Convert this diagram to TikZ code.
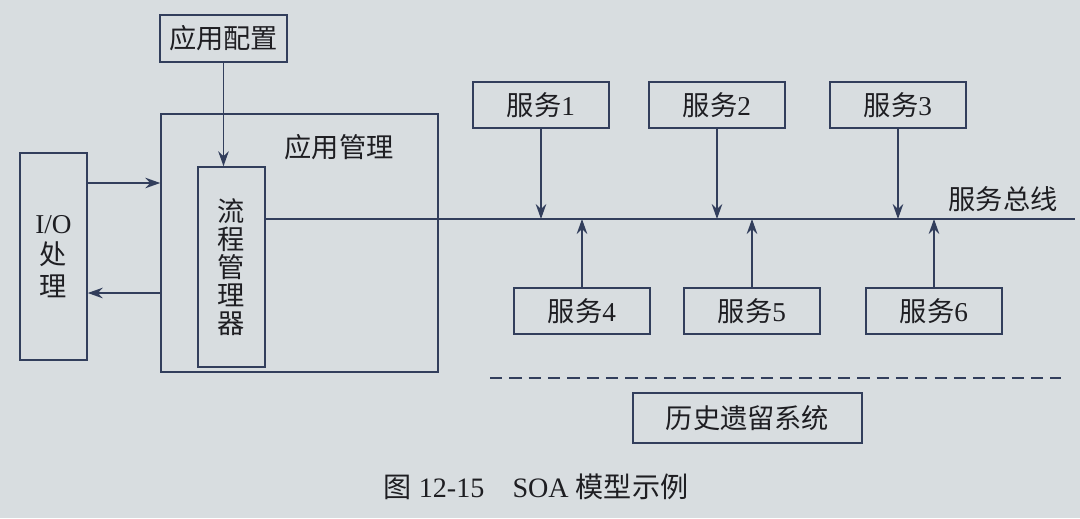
\documentclass[tikz,border=0pt]{standalone}
\usepackage{fontspec}
\setmainfont{Liberation Serif}
\newfontfamily\cjk{Noto Sans CJK SC}
\usetikzlibrary{arrows.meta}
\definecolor{paper}{RGB}{216,221,224}
\definecolor{ink}{RGB}{50,62,92}
\definecolor{txt}{RGB}{30,30,34}

\tikzset{
 box/.style={draw=ink,line width=0.9pt,inner sep=0pt,text=txt,
  font=\fontsize{15.5pt}{16pt}\selectfont},
 svc/.style={box,minimum width=2.72cm,minimum height=0.93cm},
 lbl/.style={text=txt,inner sep=0pt,font=\fontsize{15.5pt}{16pt}\selectfont},
 link/.style={->,draw=ink,line width=0.9pt}
}

\begin{document}
\begin{tikzpicture}[x=0.02cm,y=-0.02cm,>={Stealth[length=8.5pt,width=6pt]}]
\fill[paper] (0,0) rectangle (1080,518);
\useasboundingbox (0,0) rectangle (1080,518);
% left part
\node[box,minimum width=2.54cm,minimum height=0.94cm] (cfg) at (223.5,38.5) {{\cjk 应用配置}};
\node[box,minimum width=5.54cm,minimum height=5.16cm] (app) at (299.5,243) {};
\node[lbl] (applbl) at (339,147) {{\cjk 应用管理}};
\node[box,minimum width=1.34cm,minimum height=4.0cm,align=center,
 font=\fontsize{15.5pt}{16pt}\selectfont] (flow) at (231.5,267)
 {{\cjk 流}\\{\cjk 程}\\{\cjk 管}\\{\cjk 理}\\{\cjk 器}};
\node[box,minimum width=1.34cm,minimum height=4.14cm,align=center,
 font=\fontsize{15.5pt}{18pt}\selectfont] (io) at (53.5,256.5)
 {I/O\\{\cjk 处}\\{\cjk 理}};
\draw[link] (cfg) -- (cfg |- flow.north);
\coordinate (in) at (0,183);
\coordinate (out) at (0,293);
\draw[link] (in -| io.east) -- (in -| app.west);
\draw[link] (out -| app.west) -- (out -| io.east);
% service bus
\coordinate (busend) at (1075,219);
\draw[draw=ink,line width=0.9pt] (flow.east |- busend) -- (busend);
\node[lbl,anchor=south] (buslbl) at (1003,212) {{\cjk 服务总线}};
\node[svc] (s1) at (541,105) {{\cjk 服务}1};
\node[svc] (s2) at (717,105) {{\cjk 服务}2};
\node[svc] (s3) at (898,105) {{\cjk 服务}3};
\node[svc] (s4) at (582,311) {{\cjk 服务}4};
\node[svc] (s5) at (752,311) {{\cjk 服务}5};
\node[svc] (s6) at (934,311) {{\cjk 服务}6};
\draw[link] (s1) -- (s1 |- busend);
\draw[link] (s2) -- (s2 |- busend);
\draw[link] (s3) -- (s3 |- busend);
\draw[link] (s4) -- (s4 |- busend);
\draw[link] (s5) -- (s5 |- busend);
\draw[link] (s6) -- (s6 |- busend);
% legacy
\coordinate (dashL) at (490,378);
\coordinate (dashR) at (1061,378);
\draw[draw=ink,line width=0.9pt,dash pattern=on 7pt off 4pt] (dashL) -- (dashR);
\node[box,minimum width=4.58cm,minimum height=1.0cm] (legacy) at (747.5,418) {{\cjk 历史遗留系统}};
\node[lbl,font=\fontsize{16pt}{18pt}\selectfont] (cap) at (536,487)
 {{\cjk 图} 12-15\hspace{1em}SOA {\cjk 模型示例}};
\end{tikzpicture}
\end{document}
